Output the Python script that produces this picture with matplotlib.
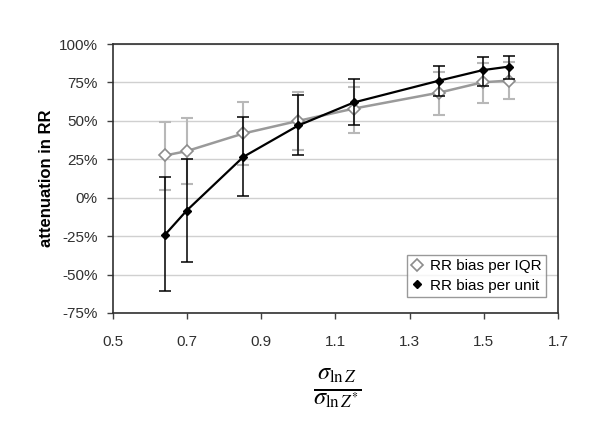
import matplotlib
matplotlib.use("Agg")
import matplotlib.pyplot as plt
from matplotlib.ticker import PercentFormatter

# Datos
ratio = [0.641, 0.699, 0.852, 1.0, 1.15, 1.38, 1.497, 1.568]

iqr_bias = [27.5, 30.3, 41.8, 50.0, 58.0, 68.4, 75.1, 76.2]
iqr_low = [5.2, 8.9, 21.4, 31.2, 42.0, 53.9, 61.9, 64.3]
iqr_high = [49.4, 51.8, 62.5, 68.6, 72.0, 81.6, 87.5, 88.0]

unit_bias = [-24.0, -8.4, 26.6, 47.0, 62.0, 76.2, 83.0, 85.3]
unit_low = [-61.0, -42.0, 1.1, 27.7, 47.0, 66.0, 73.0, 77.0]
unit_high = [13.8, 25.1, 52.4, 66.9, 77.5, 86.0, 91.5, 92.4]

plt.rcParams["font.family"] = ["Liberation Sans", "DejaVu Sans"]
plt.rcParams["mathtext.fontset"] = "stix"
plt.rcParams["axes.unicode_minus"] = False

fig = plt.figure(figsize=(6, 4.38), dpi=100)
ax = fig.add_axes([0.188, 0.2854, 0.742, 0.6141])

iqr_err = [[b - lo for b, lo in zip(iqr_bias, iqr_low)],
           [hi - b for b, hi in zip(iqr_bias, iqr_high)]]
unit_err = [[b - lo for b, lo in zip(unit_bias, unit_low)],
            [hi - b for b, hi in zip(unit_bias, unit_high)]]

# Serie gris (por IQR)
ax.errorbar(ratio, iqr_bias, yerr=iqr_err, fmt="none", ecolor="#b8b8b8",
            elinewidth=1.5, capsize=4, capthick=1.5, zorder=2)
ax.plot(ratio, iqr_bias, color="#9a9a9a", lw=1.8, marker="D", ms=6.5,
        mfc="white", mec="#8c8c8c", mew=1.2, label="RR bias per IQR", zorder=3)

# Serie negra (por unidad)
ax.errorbar(ratio, unit_bias, yerr=unit_err, fmt="none", ecolor="black",
            elinewidth=1.1, capsize=4, capthick=1.1, zorder=4)
ax.plot(ratio, unit_bias, color="black", lw=1.6, marker="D", ms=4.5,
        mfc="black", mec="black", label="RR bias per unit", zorder=5)

ax.set_xlim(0.5, 1.7)
ax.set_ylim(-75, 100)
ax.set_xticks([0.5, 0.7, 0.9, 1.1, 1.3, 1.5, 1.7])
ax.set_yticks([-75, -50, -25, 0, 25, 50, 75, 100])
ax.yaxis.set_major_formatter(PercentFormatter(decimals=0))
ax.tick_params(direction="out", length=4, width=1, color="#404040",
               labelsize=11, colors="#303030")
ax.tick_params(axis="x", pad=12)
ax.tick_params(axis="y", pad=7)
ax.grid(axis="y", color="#d0d0d0", lw=1)
ax.set_axisbelow(True)
for s in ax.spines.values():
    s.set_color("#303030")
    s.set_linewidth(1.2)

ax.set_ylabel("attenuation in RR", fontsize=12, fontweight="bold", labelpad=3)

leg = ax.legend(loc="lower right", bbox_to_anchor=(0.99, 0.03), fontsize=11,
                frameon=True, fancybox=False, edgecolor="#808080",
                handlelength=0.8, handletextpad=0.4, borderpad=0.3,
                labelspacing=0.35)
leg.get_frame().set_linewidth(1)
for h in leg.get_lines():
    h.set_linestyle("none")

fig.text(337 / 600, 1 - 388 / 438, r"$\frac{\sigma_{\ln Z}}{\sigma_{\ln Z^{*}}}$",
         fontsize=25, ha="center", va="center")

plt.savefig("out.png", dpi=100)
